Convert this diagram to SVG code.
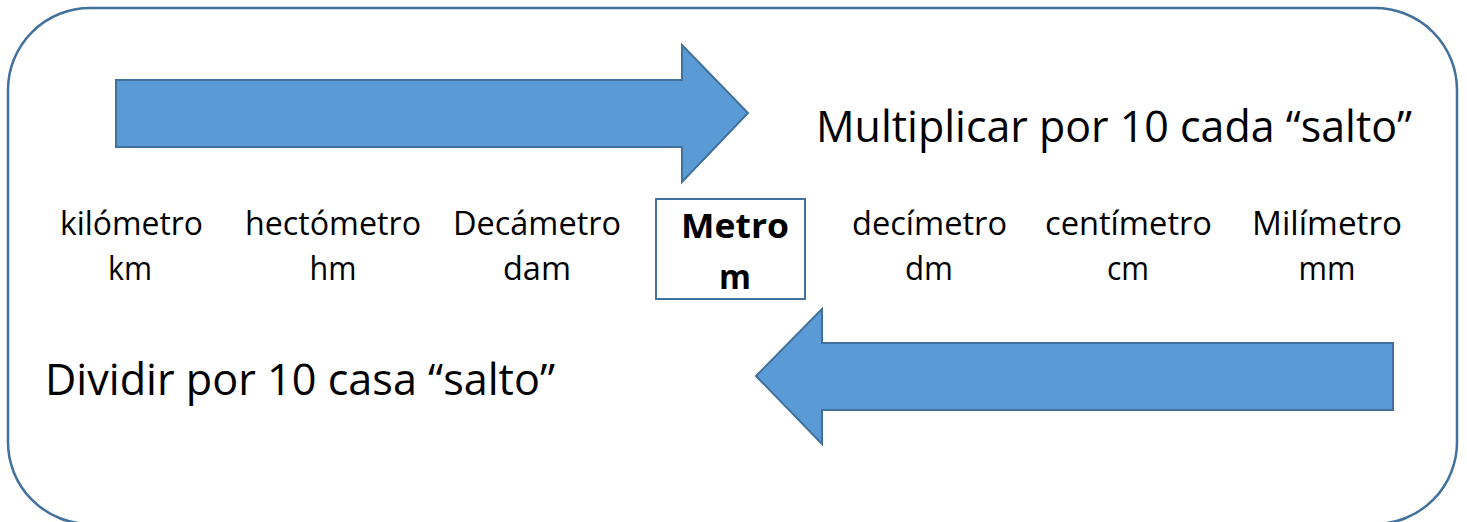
<svg xmlns="http://www.w3.org/2000/svg" width="1467" height="522" viewBox="0 0 1467 522">
<style>
.frame{fill:none;stroke:#41719C;stroke-width:2.5}
.arrow{fill:#5B9BD5;stroke:#41719C;stroke-width:2}
.box{fill:#FFFFFF;stroke:#41719C;stroke-width:2}
.big{font-family:"Open Sans","Liberation Sans",sans-serif;font-size:43px;fill:#000}
.lbl{font-family:"Open Sans","Liberation Sans",sans-serif;font-size:33px;fill:#000;text-anchor:middle}
.bold{font-family:"Open Sans","Liberation Sans",sans-serif;font-size:34px;font-weight:bold;fill:#000;text-anchor:middle}
</style>
<rect id="frame" class="frame" x="8" y="8" width="1449" height="516" rx="82" ry="82"/>
<g id="connectors">
<polygon id="arrow-right" class="arrow" points="116,80 682,80 682,45 748,113 682,182 682,147 116,147"/>
<polygon id="arrow-left" class="arrow" points="1393,343 822,343 822,309 756,376 822,444 822,410 1393,410"/>
</g>
<g id="label-multiplicar"><text class="big" x="816" y="142" textLength="596" lengthAdjust="spacingAndGlyphs">Multiplicar por 10 cada “salto”</text></g>
<g id="label-dividir"><text class="big" x="45" y="395" textLength="510" lengthAdjust="spacingAndGlyphs">Dividir por 10 casa “salto”</text></g>
<g id="node-km">
<text class="lbl" x="131.5" y="235" textLength="143" lengthAdjust="spacingAndGlyphs">kilómetro</text>
<text class="lbl" x="130" y="280" textLength="44" lengthAdjust="spacingAndGlyphs">km</text>
</g>
<g id="node-hm">
<text class="lbl" x="333" y="235" textLength="176" lengthAdjust="spacingAndGlyphs">hectómetro</text>
<text class="lbl" x="333" y="280" textLength="47" lengthAdjust="spacingAndGlyphs">hm</text>
</g>
<g id="node-dam">
<text class="lbl" x="537" y="235" textLength="168" lengthAdjust="spacingAndGlyphs">Decámetro</text>
<text class="lbl" x="537" y="280" textLength="68" lengthAdjust="spacingAndGlyphs">dam</text>
</g>
<g id="node-m">
<rect class="box" x="656" y="199" width="149" height="100"/>
<text class="bold" x="735" y="238" textLength="108" lengthAdjust="spacingAndGlyphs">Metro</text>
<text class="bold" x="735" y="289" textLength="32" lengthAdjust="spacingAndGlyphs">m</text>
</g>
<g id="node-dm">
<text class="lbl" x="929.5" y="235" textLength="155" lengthAdjust="spacingAndGlyphs">decímetro</text>
<text class="lbl" x="929" y="280" textLength="48" lengthAdjust="spacingAndGlyphs">dm</text>
</g>
<g id="node-cm">
<text class="lbl" x="1128.5" y="235" textLength="167" lengthAdjust="spacingAndGlyphs">centímetro</text>
<text class="lbl" x="1128" y="280" textLength="42" lengthAdjust="spacingAndGlyphs">cm</text>
</g>
<g id="node-mm">
<text class="lbl" x="1327" y="235" textLength="150" lengthAdjust="spacingAndGlyphs">Milímetro</text>
<text class="lbl" x="1327" y="280" textLength="57" lengthAdjust="spacingAndGlyphs">mm</text>
</g>
</svg>
